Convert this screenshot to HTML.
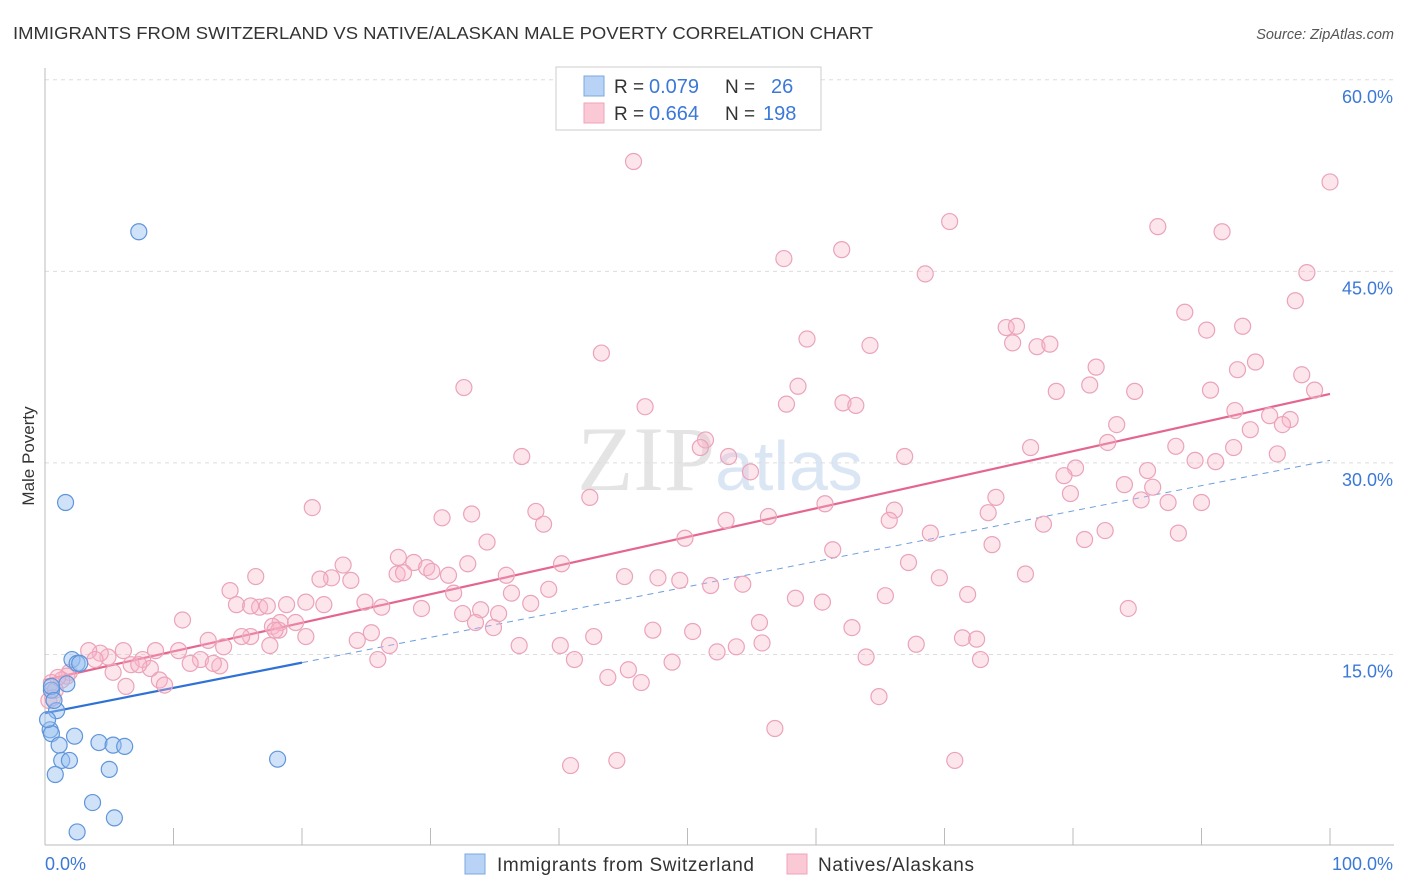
<!DOCTYPE html>
<html><head><meta charset="utf-8"><style>
body{margin:0;background:#fff;font-family:"Liberation Sans",sans-serif;}
</style></head><body>
<svg id="chart" width="1406" height="892" xmlns="http://www.w3.org/2000/svg" style="display:block">
<text x="13" y="39" font-size="17.5" fill="#333" textLength="860" lengthAdjust="spacingAndGlyphs">IMMIGRANTS FROM SWITZERLAND VS NATIVE/ALASKAN MALE POVERTY CORRELATION CHART</text>
<text x="1394" y="39" font-size="14.5" fill="#555" text-anchor="end" font-style="italic">Source: ZipAtlas.com</text>
<text transform="translate(34,456) rotate(-90)" font-size="17" fill="#333" text-anchor="middle">Male Poverty</text>
<text x="720" y="490" font-size="92" fill="#e4e4e4" text-anchor="middle" font-family="Liberation Serif">ZIP<tspan fill="#dbe6f5" font-family="Liberation Sans" font-size="70">atlas</tspan></text>
<g id="grid"></g><g id="axes"></g><g id="lines"></g><g id="pts"></g>
<g>
<rect x="556" y="67" width="265" height="63" fill="#fff" stroke="#ccc"/>
<rect x="584" y="76" width="20" height="20" fill="#b8d3f5" stroke="#7aa8e0"/>
<rect x="584" y="103" width="20" height="20" fill="#fbc8d6" stroke="#eea4ba"/>
<text x="614" y="93" font-size="19" fill="#333">R =</text>
<text x="649" y="93" font-size="20" fill="#3b78d8">0.079</text>
<text x="725" y="93" font-size="19" fill="#333">N =</text>
<text x="771" y="93" font-size="20" fill="#3b78d8">26</text>
<text x="614" y="120" font-size="19" fill="#333">R =</text>
<text x="649" y="120" font-size="20" fill="#3b78d8">0.664</text>
<text x="725" y="120" font-size="19" fill="#333">N =</text>
<text x="763" y="120" font-size="20" fill="#3b78d8">198</text>
</g>
<g>
<rect x="465" y="854" width="20" height="20" fill="#b8d3f5" stroke="#7aa8e0"/>
<text x="497" y="871" font-size="19" fill="#333" textLength="257">Immigrants from Switzerland</text>
<rect x="787" y="854" width="20" height="20" fill="#fbc8d6" stroke="#eea4ba"/>
<text x="818" y="871" font-size="19" fill="#333" textLength="156">Natives/Alaskans</text>
</g>
</svg>
<script>
const blueX=[7.3,1.6,0.5,0.9,1.7,2.1,2.5,2.7,0.4,0.5,1.1,2.3,1.3,1.9,0.8,4.2,5.3,6.2,5.0,3.7,2.5,5.4,18.1,0.5,0.7,0.2];
const blueY=[48.1,26.9,12.2,10.6,12.7,14.6,14.3,14.3,9.1,8.8,7.9,8.6,6.7,6.7,5.6,8.1,7.9,7.8,6.0,3.4,1.1,2.2,6.8,12.5,11.4,9.9];
const pinkX=[45.8,100,70.4,86.6,91.6,62.0,57.5,68.5,98.2,97.3,88.7,90.4,93.2,74.8,75.6,75.3,77.2,78.2,59.3,64.2,43.3,32.6,58.6,81.8,81.3,78.7,84.8,90.7,94.2,92.8,97.8,98.8,46.7,57.7,62.1,63.1,92.6,95.3,96.9,96.3,93.8,83.4,82.7,76.7,51.4,51.0,53.2,54.9,88.0,92.5,89.5,91.1,95.9,66.9,37.1,80.2,85.8,79.3,84.0,86.2,85.3,87.4,90.0,74.0,79.8,20.8,42.4,38.2,30.9,33.2,38.8,53.0,56.3,60.7,66.1,65.7,73.4,68.9,77.7,82.5,80.9,88.2,73.7,49.8,34.4,61.3,27.5,28.7,27.4,27.9,29.7,30.1,31.4,32.9,40.2,23.2,22.3,21.4,23.8,16.4,14.4,14.9,16.7,16.0,17.3,18.8,20.3,21.7,24.9,26.2,29.3,31.8,32.5,33.9,35.3,35.9,36.3,37.8,39.2,45.1,47.7,49.4,51.8,54.3,67.2,69.6,71.8,76.3,65.4,58.4,60.5,84.3,10.7,16.0,18.3,17.7,19.5,18.2,17.9,13.9,12.7,15.3,17.5,20.3,24.3,26.8,25.4,25.9,33.5,34.9,36.9,40.1,41.2,42.7,47.3,50.4,52.3,53.8,55.6,55.8,62.8,63.9,64.9,67.8,71.4,72.5,72.8,70.8,56.8,40.9,44.5,46.4,45.4,43.8,48.8,13.6,12.1,10.4,8.6,7.6,6.7,6.1,4.9,4.3,3.4,3.9,8.9,9.3,8.2,7.3,6.3,5.3,1.9,1.7,1.3,1.0,0.5,0.3,0.6,11.3,13.1,0.8];
const pinkY=[53.6,52.0,48.9,48.5,48.1,46.7,46.0,44.8,44.9,42.7,41.8,40.4,40.7,40.6,40.7,39.4,39.1,39.3,39.7,39.2,38.6,35.9,36.0,37.5,36.1,35.6,35.6,35.7,37.9,37.3,36.9,35.7,34.4,34.6,34.7,34.5,34.1,33.7,33.4,33.0,32.6,33.0,31.6,31.2,31.8,31.2,30.5,29.3,31.3,31.2,30.2,30.1,30.7,30.5,30.5,29.6,29.4,29.0,28.3,28.1,27.1,26.9,26.9,27.3,27.6,26.5,27.3,26.2,25.7,26.0,25.2,25.5,25.8,26.8,26.3,25.5,26.1,24.5,25.2,24.7,24.0,24.5,23.6,24.1,23.8,23.2,22.6,22.2,21.3,21.4,21.8,21.5,21.2,22.1,22.1,22.0,21.0,20.9,20.8,21.1,20.0,18.9,18.7,18.8,18.8,18.9,19.1,18.9,19.1,18.7,18.6,19.8,18.2,18.5,18.2,21.2,19.8,19.0,20.1,21.1,21.0,20.8,20.4,20.5,22.2,21.0,19.7,21.3,19.6,19.4,19.1,18.6,17.7,16.4,17.5,17.2,17.5,16.9,16.9,15.6,16.1,16.4,15.7,16.4,16.1,15.7,16.7,14.6,17.5,17.1,15.7,15.7,14.6,16.4,16.9,16.8,15.2,15.6,17.5,15.9,17.1,14.8,11.7,15.8,16.3,16.2,14.6,6.7,9.2,6.3,6.7,12.8,13.8,13.2,14.4,14.1,14.6,15.3,15.3,14.6,14.2,15.3,14.8,15.1,15.3,14.6,13.0,12.6,13.9,14.2,12.5,13.6,13.6,13.3,13.0,13.2,12.8,11.4,11.6,14.3,14.3,12.2];
const yTicks=[15,30,45,60];
const yTickLabels=["15.0%","30.0%","45.0%","60.0%"];
const xTicks=[0,10,20,30,40,50,60,70,80,90,100];
const blueFit=[10.4,0.198];
const pinkFit=[13.0,0.224];
const NS="http://www.w3.org/2000/svg";
const X=v=>45+v*12.85, Y=v=>846-v*12.77;
function mk(tag,attrs,parent){const e=document.createElementNS(NS,tag);for(const k in attrs)e.setAttribute(k,attrs[k]);document.getElementById(parent).appendChild(e);return e;}
yTicks.forEach((t,i)=>{
 const g=mk('line',{x1:45,x2:1394,y1:Y(t),y2:Y(t),stroke:'#ddd','stroke-dasharray':'4,4'},'grid');
 
 
 const l=mk('text',{x:1393,y:Y(t)+23,'font-size':18,fill:'#3b78d8','text-anchor':'end'},'grid');
 l.textContent=yTickLabels[i];
 
 
});
const ax=mk('line',{x1:45,x2:1394,y1:845,y2:845,stroke:'#bbb'},'axes');


const ay=mk('line',{x1:45,x2:45,y1:68,y2:845,stroke:'#bbb'},'axes');


xTicks.forEach(t=>{
 const k=mk('line',{x1:X(t),x2:X(t),y1:828,y2:845,stroke:'#bbb'},'axes');
 
 
});
const xl0=mk('text',{x:45,y:870,'font-size':18,fill:'#3b78d8'},'axes');xl0.textContent='0.0%';


const xl1=mk('text',{x:1393,y:870,'font-size':18,fill:'#3b78d8','text-anchor':'end'},'axes');xl1.textContent='100.0%';


pinkX.forEach((v,i)=>{
 const c=mk('circle',{cx:X(v),cy:Y(pinkY[i]),r:8,fill:'rgba(248,180,200,0.35)',stroke:'#eba3ba','stroke-width':1.2},'pts');
 
 
});
blueX.forEach((v,i)=>{
 const c=mk('circle',{cx:X(v),cy:Y(blueY[i]),r:8,fill:'rgba(150,190,240,0.45)',stroke:'#5f95db','stroke-width':1.2},'pts');
 
 
});
const bl=mk('line',{x1:X(0),y1:Y(blueFit[0]),x2:X(20),y2:Y(blueFit[0]+20*blueFit[1]),stroke:'#2f72d6','stroke-width':2.2},'lines');


const bd=mk('line',{x1:X(20),y1:Y(blueFit[0]+20*blueFit[1]),x2:X(100),y2:Y(blueFit[0]+100*blueFit[1]),stroke:'#6d9de0','stroke-width':1,'stroke-dasharray':'6,5'},'lines');


const pl=mk('line',{x1:X(0),y1:Y(pinkFit[0]),x2:X(100),y2:Y(pinkFit[0]+100*pinkFit[1]),stroke:'#e4668f','stroke-width':2.2},'lines');


</script>
</body></html>
